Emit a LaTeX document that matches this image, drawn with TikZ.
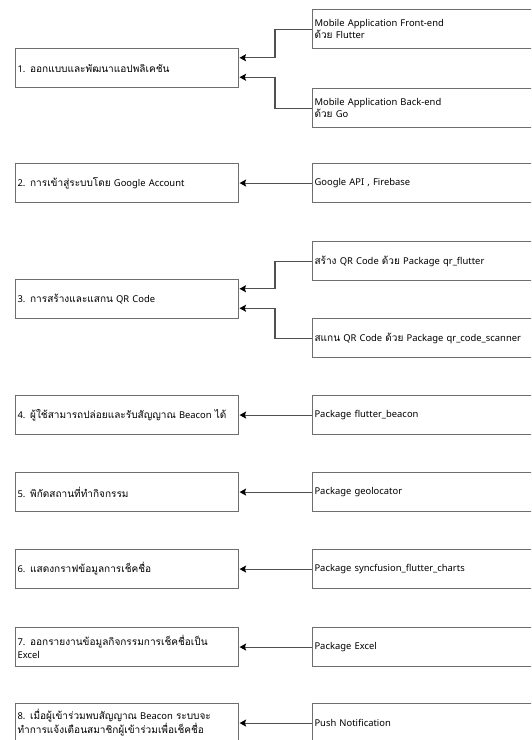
\documentclass[tikz,border=0pt]{standalone}
\usepackage{fontspec}
\setmainfont{Noto Sans}
\newfontfamily\thai[Script=Thai,Scale=1.07]{Loma}
\usetikzlibrary{arrows.meta}
\definecolor{boxgray}{HTML}{6E6E6E}
\definecolor{linegray}{HTML}{505050}
\begin{document}
\begin{tikzpicture}[x=1pt,y=-1pt,
  every node/.style={font=\fontsize{9.4}{12.8}\selectfont},
  lbox/.style={draw=boxgray,line width=1.1pt,anchor=north west,inner xsep=2pt,inner ysep=0pt,
    minimum height=39pt,text width=219pt,align=left},
  rbox/.style={lbox,text width=236pt},
  conn/.style={draw=linegray,line width=1.1pt,-{Stealth[length=6.5pt,width=7pt,inset=1.2pt,color=black]},shorten >=0.5pt}]
\useasboundingbox (0,0) rectangle (531,740);
\clip (0,0) rectangle (531,740);
% left boxes
\node[lbox] (L1) at (15,48) {1. {\thai ออกแบบและพัฒนาแอปพลิเคชัน}};
\node[lbox] (L2) at (15,163) {2. {\thai การเข้าสู่ระบบโดย} Google Account};
\node[lbox] (L3) at (15,279) {3. {\thai การสร้างและแสกน} QR Code};
\node[lbox] (L4) at (15,395) {4. {\thai ผู้ใช้สามารถปล่อยและรับสัญญาณ} Beacon {\thai ได้}};
\node[lbox] (L5) at (15,472) {5. {\thai พิกัดสถานที่ทำกิจกรรม}};
\node[lbox] (L6) at (15,549) {6. {\thai แสดงกราฟข้อมูลการเช็คชื่อ}};
\node[lbox] (L7) at (15,627) {7. {\thai ออกรายงานข้อมูลกิจกรรมการเช็คชื่อเป็น}\\Excel};
\node[lbox] (L8) at (15,703) {8. {\thai เมื่อผู้เข้าร่วมพบสัญญาณ} Beacon {\thai ระบบจะ}\\{\thai ทำการแจ้งเตือนสมาชิกผู้เข้าร่วมเพื่อเช็คชื่อ}};
% right boxes
\node[rbox] (R1a) at (312,9) {Mobile Application Front-end\\{\thai ด้วย} Flutter};
\node[rbox] (R1b) at (312,88) {Mobile Application Back-end\\{\thai ด้วย} Go};
\node[rbox] (R2) at (312,163) {Google API , Firebase};
\node[rbox] (R3a) at (312,241) {{\thai สร้าง} QR Code {\thai ด้วย} Package qr\_flutter};
\node[rbox] (R3b) at (312,318) {{\thai สแกน} QR Code {\thai ด้วย} Package qr\_code\_scanner};
\node[rbox] (R4) at (312,395) {Package flutter\_beacon};
\node[rbox] (R5) at (312,472) {Package geolocator};
\node[rbox] (R6) at (312,549) {Package syncfusion\_flutter\_charts};
\node[rbox] (R7) at (312,627) {Package Excel};
\node[rbox] (R8) at (312,703) {Push Notification};
% arrow end points on the left boxes
\coordinate (t1a) at (239,57.75);
\coordinate (t1b) at (239,77.25);
\coordinate (t3a) at (239,288.75);
\coordinate (t3b) at (239,308.25);
% connectors
\draw[conn] (R1a.west) -- ++(-37,0) |- (t1a);
\draw[conn] (R1b.west) -- ++(-37,0) |- (t1b);
\draw[conn] (R2.west) -- (L2.east);
\draw[conn] (R3a.west) -- ++(-37,0) |- (t3a);
\draw[conn] (R3b.west) -- ++(-37,0) |- (t3b);
\draw[conn] (R4.west) -- (L4.east);
\draw[conn] (R5.west) -- (L5.east);
\draw[conn] (R6.west) -- (L6.east);
\draw[conn] (R7.west) -- (L7.east);
\draw[conn] (R8.west) -- (L8.east);
\end{tikzpicture}
\end{document}
